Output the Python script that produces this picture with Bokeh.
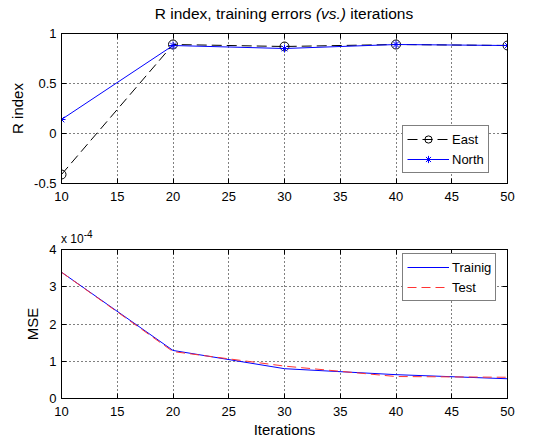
from bokeh.plotting import figure
from bokeh.layouts import column
from bokeh.models import (LinearAxis, Range1d, FixedTicker, Legend, LegendItem, Div)
from bokeh.embed import file_html
from bokeh.resources import INLINE

# ---- data ----
iterations = [10, 20, 30, 40, 50]
r_east = [-0.41, 0.89, 0.87, 0.89, 0.88]
r_north = [0.14, 0.88, 0.85, 0.89, 0.88]
mse_train = [3.39, 1.29, 0.80, 0.64, 0.53]   # x 1e-4
mse_test = [3.39, 1.26, 0.87, 0.59, 0.57]    # x 1e-4

x_ticks = [10, 15, 20, 25, 30, 35, 40, 45, 50]
r_ticks = [-0.5, 0, 0.5, 1]
r_tick_labels = ["-0.5", "0", "0.5", "1"]
mse_ticks = [0, 1, 2, 3, 4]
mse_tick_labels = ["0", "1", "2", "3", "4"]

title_html = "R index, training errors <i>(vs.)</i> iterations"
scale_html = "x 10<sup style='font-size:10px'>-4</sup>"

FONT = "Liberation Sans"
TICK_FS = "13px"
LABEL_FS = "15px"


def style_axes(p, xt, yt, ylabels):
    for ax in p.xaxis:
        ax.ticker = FixedTicker(ticks=xt)
        ax.major_label_standoff = 8
        ax.axis_label_standoff = 2
    for ax in p.yaxis:
        ax.ticker = FixedTicker(ticks=yt)
        ax.major_label_overrides = {float(t): l for t, l in zip(yt, ylabels)}
        ax.major_label_standoff = 5
    for ax in p.axis:
        ax.major_tick_in = 5
        ax.major_tick_out = 0
        ax.minor_tick_line_color = None
        ax.axis_line_color = "black"
        ax.major_tick_line_color = "black"
        ax.major_label_text_font = FONT
        ax.major_label_text_font_size = TICK_FS
        ax.major_label_text_color = "black"
        ax.axis_label_text_font = FONT
        ax.axis_label_text_font_size = LABEL_FS
        ax.axis_label_text_font_style = "normal"
        ax.axis_label_text_color = "black"
    p.grid.grid_line_color = "black"
    p.grid.grid_line_dash = "1 3"
    p.grid.grid_line_width = 1
    p.xgrid.ticker = FixedTicker(ticks=xt)
    p.ygrid.ticker = FixedTicker(ticks=yt)
    p.outline_line_color = "black"


def add_box_axes(p, xt, yt):
    ra = LinearAxis(ticker=FixedTicker(ticks=yt), major_label_text_color=None,
                    major_label_text_font_size="1px")
    ta = LinearAxis(ticker=FixedTicker(ticks=xt), major_label_text_color=None,
                    major_label_text_font_size="1px")
    for ax in (ra, ta):
        ax.major_tick_in = 5
        ax.major_tick_out = 0
        ax.minor_tick_line_color = None
        ax.major_label_standoff = 0
    p.add_layout(ra, "right")
    p.add_layout(ta, "above")


title_div = Div(text=title_html, width=446, height=25, margin=(0, 0, 0, 61),
                styles={"font-family": FONT, "font-size": "15.5px", "text-align": "center",
                        "line-height": "28px", "color": "black"})

# ---- top figure ----
p1 = figure(frame_width=446, frame_height=150, min_border_left=61, min_border_right=41,
            min_border_top=8, min_border_bottom=38,
            x_range=Range1d(10, 50), y_range=Range1d(-0.5, 1),
            output_backend="svg", toolbar_location=None,
            background_fill_color="white", border_fill_color="white")
p1.yaxis.axis_label = "R index"
style_axes(p1, x_ticks, r_ticks, r_tick_labels)
add_box_axes(p1, x_ticks, r_ticks)

l_east = p1.line(iterations, r_east, line_color="black", line_dash="10 5", line_width=1)
s_east = p1.scatter(iterations, r_east, marker="circle", size=9, fill_color=None,
                    line_color="black", line_width=1)
l_north = p1.line(iterations, r_north, line_color="#0000ff", line_width=1)
s_north = p1.scatter(iterations, r_north, marker="asterisk", size=8,
                     line_color="#0000ff", line_width=1)

leg1 = Legend(items=[LegendItem(label="East", renderers=[l_east, s_east]),
                     LegendItem(label="North", renderers=[l_north, s_north])],
              location=(341, 10))
p1.add_layout(leg1, "center")

scale_div = Div(text=scale_html, width=80, height=22, margin=(0, 0, 0, 61),
                styles={"font-family": FONT, "font-size": "12px", "padding-top": "7px",
                        "line-height": "14px", "color": "black"})

# ---- bottom figure ----
p2 = figure(frame_width=446, frame_height=149, min_border_left=61, min_border_right=41,
            min_border_top=6, min_border_bottom=44,
            x_range=Range1d(10, 50), y_range=Range1d(0, 4),
            output_backend="svg", toolbar_location=None,
            background_fill_color="white", border_fill_color="white")
p2.yaxis.axis_label = "MSE"
p2.xaxis.axis_label = "Iterations"
style_axes(p2, x_ticks, mse_ticks, mse_tick_labels)
add_box_axes(p2, x_ticks, mse_ticks)

l_train = p2.line(iterations, mse_train, line_color="#0000ff", line_width=1)
l_test = p2.line(iterations, mse_test, line_color="#ff3333", line_dash="9 5", line_width=1)

leg2 = Legend(items=[LegendItem(label="Trainig", renderers=[l_train]),
                     LegendItem(label="Test", renderers=[l_test])],
              location=(341, 97))
p2.add_layout(leg2, "center")

for leg in (leg1, leg2):
    leg.border_line_color = "black"
    leg.border_line_width = 1
    leg.background_fill_color = "white"
    leg.background_fill_alpha = 1
    leg.label_text_font = FONT
    leg.label_text_font_size = "13px"
    leg.label_text_color = "black"
    leg.glyph_width = 42
    leg.glyph_height = 18
    leg.label_height = 18
    leg.spacing = 2
    leg.padding = 4
    leg.margin = 0
    leg.label_standoff = 3

layout = column(title_div, p1, scale_div, p2, spacing=0)
open("out.html", "w").write(file_html(layout, INLINE))
